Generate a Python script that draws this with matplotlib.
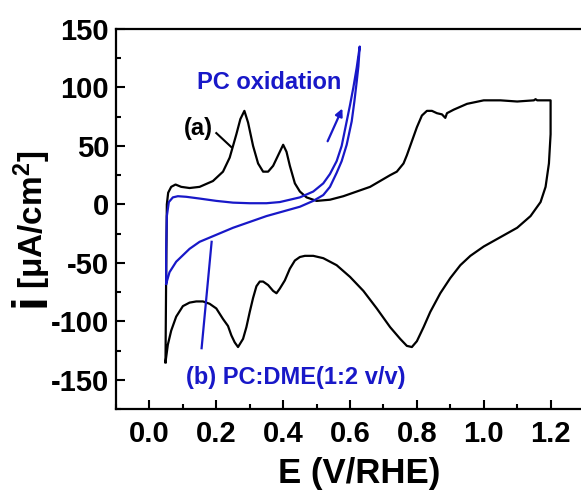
import matplotlib
matplotlib.use("Agg")
import matplotlib.pyplot as plt
from matplotlib.ticker import MultipleLocator

plt.rcParams['font.family'] = ['Liberation Sans', 'DejaVu Sans']
plt.rcParams['font.weight'] = 'bold'
plt.rcParams['mathtext.fontset'] = 'custom'
plt.rcParams['mathtext.rm'] = 'Liberation Sans:bold'
plt.rcParams['mathtext.bf'] = 'Liberation Sans:bold'
plt.rcParams['mathtext.default'] = 'rm'

# ---- data: curve (a) black CV (E in V/RHE, i in uA/cm2) ----
a_E = [0.048, 0.050, 0.052, 0.056, 0.065, 0.078, 0.095, 0.12, 0.15, 0.19, 0.22,
       0.24, 0.26, 0.272, 0.284, 0.295, 0.31, 0.325, 0.34, 0.355, 0.37, 0.385,
       0.40, 0.41, 0.42, 0.435, 0.45, 0.47, 0.50, 0.54, 0.58, 0.62, 0.66, 0.69,
       0.72, 0.74, 0.76, 0.77, 0.785, 0.80, 0.815, 0.83, 0.845, 0.86, 0.875,
       0.885, 0.89, 0.91, 0.95, 1.00, 1.05, 1.10, 1.15, 1.155, 1.16, 1.20,
       1.20, 1.195, 1.185, 1.17, 1.14, 1.10, 1.05, 1.00, 0.96, 0.93, 0.90,
       0.87, 0.84, 0.82, 0.80, 0.785, 0.77, 0.75, 0.72, 0.68, 0.64, 0.60,
       0.56, 0.52, 0.49, 0.465, 0.45, 0.435, 0.42, 0.405, 0.39, 0.38, 0.37,
       0.355, 0.34, 0.33, 0.32, 0.31, 0.30, 0.29, 0.28, 0.265, 0.255, 0.245,
       0.235, 0.22, 0.20, 0.18, 0.16, 0.14, 0.12, 0.10, 0.08, 0.065, 0.055, 0.048]
a_i = [-135, -60, 0, 10, 15, 17, 15, 14, 15, 20, 28,
       40, 60, 73, 80, 70, 50, 35, 28, 28, 33, 42,
       51, 45, 33, 18, 11, 6, 3, 4, 7, 11, 15, 20,
       25, 28, 35, 42, 54, 66, 76, 80, 80, 78, 77,
       74, 78, 81, 86, 89, 89, 88, 89, 90, 89, 89,
       60, 35, 15, 2, -10, -20, -28, -36, -44, -52, -63,
       -76, -92, -105, -117, -122, -121, -115, -105, -89, -74, -62,
       -52, -46, -44, -44, -45, -48, -55, -65, -72, -76, -74,
       -69, -66, -66, -70, -80, -92, -105, -115, -122, -118, -112,
       -104, -98, -89, -85, -83, -83, -84, -87, -96, -108, -120, -135]

# ---- data: curve (b) blue CV in PC:DME ----
b_E = [0.050, 0.050, 0.052, 0.058, 0.07, 0.085, 0.11, 0.15, 0.20, 0.25, 0.30,
       0.35, 0.39, 0.45, 0.49, 0.52, 0.54, 0.56, 0.575, 0.59, 0.60, 0.61, 0.62, 0.629,
       0.625, 0.62, 0.613, 0.605, 0.59, 0.575, 0.56, 0.54, 0.52, 0.49, 0.45, 0.40,
       0.35, 0.30, 0.25, 0.20, 0.15, 0.12, 0.08, 0.06, 0.050]
b_i = [-68, -40, -10, 2, 6, 7, 6.5, 5, 3, 1.5, 1,
       1, 2, 6, 11, 18, 26, 37, 50, 71, 85, 100, 117, 135,
       118, 105, 88, 71, 51, 37, 27, 15, 8, 3, -2, -6,
       -10, -15, -20, -26, -32, -38, -49, -58, -68]

xticks = [0.0, 0.2, 0.4, 0.6, 0.8, 1.0, 1.2]
yticks = [-150, -100, -50, 0, 50, 100, 150]

BLUE = '#1818c8'

fig = plt.figure(figsize=(5.81, 4.91), dpi=100)
ax = fig.add_axes([0.1997, 0.167, 0.8055, 0.7739])

ax.plot(a_E, a_i, color='black', lw=1.6, solid_joinstyle='round')
ax.plot(b_E, b_i, color=BLUE, lw=1.6, solid_joinstyle='round')

ax.set_xlim(-0.1, 1.3)
ax.set_ylim(-175, 150)
ax.set_xticks(xticks)
ax.set_yticks(yticks)
ax.xaxis.set_minor_locator(MultipleLocator(0.1))
ax.yaxis.set_minor_locator(MultipleLocator(25))
ax.set_xticklabels([f'{v:.1f}' for v in xticks])
ax.set_yticklabels([str(v) for v in yticks])

for s in ax.spines.values():
    s.set_linewidth(1.6)
ax.tick_params(which='both', direction='in', top=False, right=False, width=1.5)
ax.tick_params(which='major', length=6.5, labelsize=21)
ax.tick_params(axis='x', which='major', pad=8)
ax.tick_params(axis='y', which='major', pad=5)
ax.tick_params(which='minor', length=3.5)
for lab in ax.get_xticklabels() + ax.get_yticklabels():
    lab.set_fontweight('bold')

ax.set_xlabel('E (V/RHE)', fontsize=25, fontweight='bold')
ax.xaxis.set_label_coords(0.519, -0.127)

# y label in two parts: big "i" and bracket units
fig.text(0.054, 0.389, 'i', rotation=90, fontsize=36, fontweight='bold',
         ha='center', va='center')
fig.text(0.055, 0.553, '[μA/cm$^{2}$]', rotation=90, fontsize=24, fontweight='bold',
         ha='center', va='center')

# annotations
ax.text(0.359, 104, 'PC oxidation', color=BLUE, fontsize=17, fontweight='bold',
        ha='center', va='center')
ax.text(0.147, 65, '(a)', color='black', fontsize=17, fontweight='bold',
        ha='center', va='center')
ax.text(0.437, -148, '(b) PC:DME(1:2 v/v)', color=BLUE, fontsize=17, fontweight='bold',
        ha='center', va='center')
ax.plot([0.20, 0.245], [61, 49], color='black', lw=1.5)
ax.plot([0.156, 0.186], [-123, -32], color=BLUE, lw=1.6)
ax.annotate('', xy=(0.577, 82), xytext=(0.533, 54),
            arrowprops=dict(arrowstyle='-|>', color=BLUE, lw=1.6, mutation_scale=11,
                            shrinkA=0, shrinkB=0))

fig.savefig('out.png', dpi=100)
